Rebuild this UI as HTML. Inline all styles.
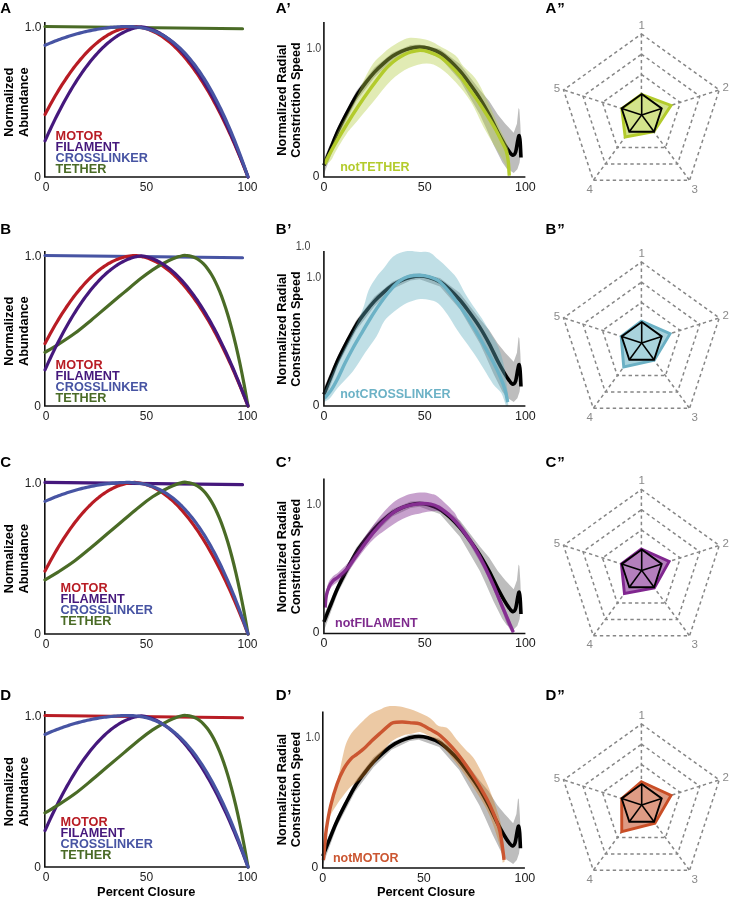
<!DOCTYPE html>
<html><head><meta charset="utf-8"><title>Figure</title>
<style>
html,body{margin:0;padding:0;background:#fff;}
body{width:729px;height:901px;overflow:hidden;}
svg{display:block;will-change:transform;}
text{font-family:"Liberation Sans", sans-serif;}
</style></head>
<body>
<svg width="729" height="901" viewBox="0 0 729 901" font-family='"Liberation Sans", sans-serif'>
<rect width="729" height="901" fill="#fff"/>
<text x="0.3" y="13.4" font-size="15" font-weight="bold">A</text>
<path d="M44.8,22 V177 H249" fill="none" stroke="#111" stroke-width="1.6"/>
<text x="41.5" y="30.8" font-size="12" text-anchor="end" fill="#222">1.0</text>
<text x="41" y="181.3" font-size="12" text-anchor="end" fill="#222">0</text>
<text x="46" y="190.5" font-size="12" text-anchor="middle" fill="#222">0</text>
<text x="146.5" y="190.5" font-size="12" text-anchor="middle" fill="#222">50</text>
<text x="247.5" y="190.5" font-size="12" text-anchor="middle" fill="#222">100</text>
<text transform="translate(13.3,102.25) rotate(-90)" font-size="12.8" font-weight="bold" text-anchor="middle">Normalized</text>
<text transform="translate(27.8,102.25) rotate(-90)" font-size="12.8" font-weight="bold" text-anchor="middle">Abundance</text>
<path d="M45,26.5 L242.52,28.76" fill="none" stroke="#4a6b26" stroke-width="3.2" stroke-linecap="round" stroke-linejoin="round"/>
<path d="M45,114.54 L46.69,111.31 L48.38,108.14 L50.08,105.03 L51.77,101.98 L53.46,98.99 L55.15,96.06 L56.84,93.2 L58.53,90.39 L60.23,87.64 L61.92,84.95 L63.61,82.33 L65.3,79.76 L66.99,77.25 L68.68,74.81 L70.38,72.42 L72.07,70.1 L73.76,67.83 L75.45,65.63 L77.14,63.49 L78.83,61.4 L80.53,59.38 L82.22,57.42 L83.91,55.52 L85.6,53.67 L87.29,51.89 L88.98,50.17 L90.68,48.51 L92.37,46.91 L94.06,45.37 L95.75,43.89 L97.44,42.47 L99.13,41.11 L100.83,39.82 L102.52,38.58 L104.21,37.4 L105.9,36.28 L107.59,35.23 L109.28,34.23 L110.98,33.29 L112.67,32.42 L114.36,31.6 L116.05,30.85 L117.74,30.15 L119.43,29.52 L121.12,28.95 L122.82,28.43 L124.51,27.98 L126.2,27.59 L127.89,27.25 L129.58,26.98 L131.27,26.77 L132.97,26.62 L134.66,26.56 L136.35,26.69 L138.04,26.87 L139.73,27.12 L141.43,27.44 L143.12,27.82 L144.81,28.26 L146.5,28.77 L148.19,29.34 L149.88,29.98 L151.57,30.68 L153.27,31.45 L154.96,32.28 L156.65,33.17 L158.34,34.13 L160.03,35.15 L161.72,36.24 L163.42,37.39 L165.11,38.61 L166.8,39.89 L168.49,41.23 L170.18,42.64 L171.88,44.11 L173.57,45.65 L175.26,47.25 L176.95,48.92 L178.64,50.65 L180.33,52.45 L182.03,54.3 L183.72,56.23 L185.41,58.22 L187.1,60.27 L188.79,62.39 L190.48,64.57 L192.17,66.81 L193.87,69.12 L195.56,71.5 L197.25,73.93 L198.94,76.44 L200.63,79 L202.33,81.63 L204.02,84.33 L205.71,87.09 L207.4,89.91 L209.09,92.8 L210.78,95.76 L212.47,98.77 L214.17,101.86 L215.86,105 L217.55,108.21 L219.24,111.49 L220.93,114.83 L222.62,118.23 L224.32,121.7 L226.01,125.23 L227.7,128.83 L229.39,132.49 L231.08,136.21 L232.78,140 L234.47,143.85 L236.16,147.77 L237.85,151.75 L239.54,155.8 L241.23,159.91 L242.92,164.09 L244.62,168.33 L246.31,172.63 L248,177" fill="none" stroke="#b81c24" stroke-width="3.2" stroke-linecap="round" stroke-linejoin="round"/>
<path d="M45,140.88 L46.69,137.1 L48.38,133.38 L50.08,129.73 L51.77,126.14 L53.46,122.61 L55.15,119.15 L56.84,115.75 L58.53,112.41 L60.23,109.14 L61.92,105.93 L63.61,102.79 L65.3,99.7 L66.99,96.68 L68.68,93.73 L70.38,90.84 L72.07,88.01 L73.76,85.25 L75.45,82.55 L77.14,79.91 L78.83,77.34 L80.53,74.83 L82.22,72.38 L83.91,70 L85.6,67.68 L87.29,65.42 L88.98,63.23 L90.68,61.1 L92.37,59.03 L94.06,57.03 L95.75,55.09 L97.44,53.22 L99.13,51.41 L100.83,49.66 L102.52,47.98 L104.21,46.36 L105.9,44.8 L107.59,43.31 L109.28,41.88 L110.98,40.51 L112.67,39.21 L114.36,37.97 L116.05,36.79 L117.74,35.68 L119.43,34.63 L121.12,33.65 L122.82,32.73 L124.51,31.87 L126.2,31.08 L127.89,30.34 L129.58,29.68 L131.27,29.07 L132.97,28.53 L134.66,28.06 L136.35,27.64 L138.04,27.29 L139.73,27.01 L141.43,26.81 L143.12,27.05 L144.81,27.36 L146.5,27.74 L148.19,28.19 L149.88,28.71 L151.57,29.3 L153.27,29.96 L154.96,30.68 L156.65,31.48 L158.34,32.34 L160.03,33.27 L161.72,34.27 L163.42,35.34 L165.11,36.48 L166.8,37.69 L168.49,38.97 L170.18,40.32 L171.88,41.74 L173.57,43.22 L175.26,44.78 L176.95,46.4 L178.64,48.09 L180.33,49.86 L182.03,51.69 L183.72,53.59 L185.41,55.56 L187.1,57.6 L188.79,59.7 L190.48,61.88 L192.17,64.12 L193.87,66.44 L195.56,68.82 L197.25,71.28 L198.94,73.8 L200.63,76.39 L202.33,79.05 L204.02,81.78 L205.71,84.58 L207.4,87.45 L209.09,90.38 L210.78,93.39 L212.47,96.46 L214.17,99.61 L215.86,102.82 L217.55,106.1 L219.24,109.45 L220.93,112.88 L222.62,116.36 L224.32,119.92 L226.01,123.55 L227.7,127.25 L229.39,131.01 L231.08,134.85 L232.78,138.75 L234.47,142.73 L236.16,146.77 L237.85,150.88 L239.54,155.06 L241.23,159.31 L242.92,163.63 L244.62,168.02 L246.31,172.47 L248,177" fill="none" stroke="#45187c" stroke-width="3.2" stroke-linecap="round" stroke-linejoin="round"/>
<path d="M45,45.31 L46.69,44.57 L48.38,43.85 L50.08,43.14 L51.77,42.44 L53.46,41.77 L55.15,41.1 L56.84,40.45 L58.53,39.81 L60.23,39.19 L61.92,38.59 L63.61,38 L65.3,37.42 L66.99,36.86 L68.68,36.31 L70.38,35.78 L72.07,35.26 L73.76,34.76 L75.45,34.27 L77.14,33.8 L78.83,33.34 L80.53,32.9 L82.22,32.47 L83.91,32.06 L85.6,31.66 L87.29,31.28 L88.98,30.91 L90.68,30.56 L92.37,30.22 L94.06,29.89 L95.75,29.58 L97.44,29.29 L99.13,29.01 L100.83,28.74 L102.52,28.49 L104.21,28.26 L105.9,28.04 L107.59,27.83 L109.28,27.64 L110.98,27.46 L112.67,27.3 L114.36,27.15 L116.05,27.02 L117.74,26.91 L119.43,26.8 L121.12,26.72 L122.82,26.64 L124.51,26.59 L126.2,26.54 L127.89,26.52 L129.58,26.55 L131.27,26.61 L132.97,26.7 L134.66,26.82 L136.35,26.98 L138.04,27.17 L139.73,27.4 L141.43,27.67 L143.12,27.99 L144.81,28.34 L146.5,28.75 L148.19,29.2 L149.88,29.7 L151.57,30.26 L153.27,30.86 L154.96,31.52 L156.65,32.23 L158.34,33 L160.03,33.82 L161.72,34.7 L163.42,35.64 L165.11,36.65 L166.8,37.71 L168.49,38.83 L170.18,40.02 L171.88,41.27 L173.57,42.59 L175.26,43.97 L176.95,45.42 L178.64,46.94 L180.33,48.53 L182.03,50.19 L183.72,51.91 L185.41,53.71 L187.1,55.58 L188.79,57.53 L190.48,59.54 L192.17,61.64 L193.87,63.8 L195.56,66.05 L197.25,68.37 L198.94,70.76 L200.63,73.24 L202.33,75.8 L204.02,78.43 L205.71,81.14 L207.4,83.94 L209.09,86.82 L210.78,89.78 L212.47,92.82 L214.17,95.95 L215.86,99.16 L217.55,102.45 L219.24,105.84 L220.93,109.3 L222.62,112.86 L224.32,116.5 L226.01,120.23 L227.7,124.05 L229.39,127.96 L231.08,131.95 L232.78,136.04 L234.47,140.22 L236.16,144.49 L237.85,148.86 L239.54,153.31 L241.23,157.86 L242.92,162.5 L244.62,167.24 L246.31,172.07 L248,177" fill="none" stroke="#4754a3" stroke-width="3.2" stroke-linecap="round" stroke-linejoin="round"/>
<text x="55.6" y="140.1" font-size="12.7" font-weight="bold" fill="#b81c24">MOTOR</text>
<text x="55.6" y="151" font-size="12.7" font-weight="bold" fill="#45187c">FILAMENT</text>
<text x="55.6" y="161.9" font-size="12.7" font-weight="bold" fill="#4754a3">CROSSLINKER</text>
<text x="55.6" y="172.8" font-size="12.7" font-weight="bold" fill="#4a6b26">TETHER</text>
<text x="275.8" y="13.4" font-size="15" font-weight="bold">A<tspan dx="0.6">’</tspan></text>
<path d="M323.9,158.8 L338,126.3 L356.14,91.2 L374.27,67.8 L392.41,52.85 L410.54,45.05 L419.61,44.4 L439.96,48.95 L459.91,63.9 L479.86,89.9 L489.13,100.95 L497.79,114.6 L505.25,123.7 L513.71,132.8 L516.94,123.7 L518.55,108.1 L519.36,109.4 L520.36,125 L521.17,144.5 L521.17,144.5 L520.36,156.2 L519.56,162.7 L517.34,169.2 L513.71,173.1 L506.66,168.42 L502.23,162.18 L493.36,144.5 L485.3,126.3 L479.86,114.6 L459.91,80.15 L439.96,57.4 L419.61,50.25 L410.54,51.55 L392.41,60 L374.27,77.55 L356.14,101.6 L338,136.05 L323.9,174.4 Z" fill="#bdbdbd" stroke="none"/>
<path d="M323.9,165.3 C325.08,162.38 328.6,153.49 330.95,147.75 C333.3,142.01 335.32,136.7 338,130.85 C340.69,125 344.05,118.44 347.07,112.65 C350.09,106.87 353.12,101.02 356.14,96.14 C359.16,91.27 362.19,87.37 365.21,83.4 C368.23,79.44 371.25,75.64 374.27,72.35 C377.3,69.06 380.32,66.31 383.34,63.64 C386.36,60.98 389.39,58.4 392.41,56.36 C395.43,54.32 398.45,52.76 401.48,51.42 C404.5,50.08 407.52,49.04 410.54,48.3 C413.57,47.56 416.59,47 419.61,47 C422.63,47 425.29,47.33 428.68,48.3 C432.07,49.28 436.44,50.79 439.96,52.85 C443.49,54.91 446.51,57.62 449.84,60.65 C453.16,63.68 456.72,67.37 459.91,71.05 C463.1,74.73 465.66,78.2 468.98,82.75 C472.3,87.3 476.5,93.04 479.86,98.35 C483.22,103.66 486.14,108.97 489.13,114.6 C492.12,120.23 495.28,127.28 497.79,132.15 C500.31,137.03 502.33,140.6 504.24,143.85 C506.16,147.1 507.84,149.77 509.28,151.65 C510.72,153.53 511.87,155.05 512.91,155.16 C513.95,155.27 514.72,154.73 515.53,152.3 C516.33,149.87 517.14,143.37 517.74,140.6 C518.35,137.83 518.75,135.44 519.15,135.66 C519.56,135.88 519.86,138.26 520.16,141.9 C520.46,145.54 520.83,154.9 520.97,157.5" fill="none" stroke="#000" stroke-width="3.6" stroke-linejoin="round" stroke-linecap="butt"/>
<path d="M323.9,160.1 C325.08,158.04 328.6,152.52 330.95,147.75 C333.3,142.98 335.39,136.92 338,131.5 C340.62,126.08 343.75,120.67 346.67,115.25 C349.59,109.83 352.61,104.96 355.54,99 C358.46,93.04 361.24,85.46 364.2,79.5 C367.16,73.54 370.25,67.47 373.27,63.25 C376.29,59.02 379.38,56.86 382.33,54.15 C385.29,51.44 387.98,49.17 391,47 C394.02,44.83 397.51,42.67 400.47,41.15 C403.43,39.63 405.47,38.33 408.73,37.9 C411.99,37.47 416.35,38.01 420.02,38.55 C423.68,39.09 427.37,39.87 430.69,41.15 C434.02,42.43 435.83,43.84 439.96,46.22 C444.09,48.6 451.58,52.09 455.48,55.45 C459.38,58.81 459.98,62.47 463.34,66.37 C466.7,70.27 471.77,73.41 475.63,78.85 C479.49,84.29 482.61,90.98 486.51,99 C490.41,107.02 495.38,118.67 499,126.95 C502.63,135.23 506.53,140.32 508.27,148.66 C510.02,157 509.28,172.28 509.48,177 L508.68,177 C508.1,174.88 507.63,169.48 505.25,164.26 C502.87,159.04 498,151.89 494.37,145.67 C490.74,139.45 487.38,134.21 483.49,126.95 C479.59,119.69 475.66,109.59 471,102.12 C466.33,94.65 460.65,87.78 455.48,82.1 C450.31,76.42 444.77,71.16 439.96,68.06 C435.16,64.96 431.87,63.51 426.66,63.51 C421.46,63.51 414.68,65.24 408.73,68.06 C402.79,70.88 396.91,74.8 391,80.41 C385.09,86.02 379.18,94.62 373.27,101.73 C367.36,108.84 359.97,117.72 355.54,123.05 C351.1,128.38 349.93,129.05 346.67,133.71 C343.41,138.37 338.61,146.56 335.99,151 C333.37,155.44 332.97,157.76 330.95,160.36 C328.94,162.96 325.08,165.56 323.9,166.6 Z" fill="#b4cd43" fill-opacity="0.4" stroke="none"/>
<path d="M324.71,164 C325.24,162.92 326.35,160.58 327.93,157.5 C329.51,154.42 331.09,151 334.18,145.54 C337.27,140.08 342.4,131.37 346.47,124.74 C350.53,118.11 354.39,112 358.56,105.76 C362.72,99.52 367.26,93.09 371.45,87.3 C375.65,81.52 380.59,74.89 383.75,71.05 C386.9,67.22 388.11,66.35 390.39,64.29 C392.68,62.23 395.1,60.33 397.45,58.7 C399.8,57.08 402.22,55.67 404.5,54.54 C406.78,53.41 408.56,52.66 411.15,51.94 C413.74,51.22 417.09,50.27 420.02,50.25 C422.94,50.23 425.36,50.71 428.68,51.81 C432,52.91 436.44,54.65 439.96,56.88 C443.49,59.11 446.51,62.04 449.84,65.2 C453.16,68.36 456.72,71.96 459.91,75.86 C463.1,79.76 465.66,83.92 468.98,88.6 C472.3,93.28 476.5,98.96 479.86,103.94 C483.22,108.92 486.48,114.19 489.13,118.5 C491.78,122.81 493.6,125.8 495.78,129.81 C497.96,133.82 500.48,139.02 502.23,142.55 C503.97,146.08 505.25,147.86 506.26,151 C507.26,154.14 507.77,157.28 508.27,161.4 C508.78,165.52 509.11,173.32 509.28,175.7" fill="none" stroke="#b3cb2c" stroke-width="3.4" stroke-linejoin="round"/>
<path d="M323.9,22 V177 H525.4" fill="none" stroke="#111" stroke-width="1.6"/>
<text transform="translate(321.3,51.6) scale(0.86,1)" font-size="12.4" text-anchor="end" fill="#444">1.0</text>
<text x="319.4" y="179.6" font-size="12" text-anchor="end" fill="#222">0</text>
<text x="323.9" y="190.5" font-size="12.5" text-anchor="middle" fill="#222">0</text>
<text x="424.65" y="190.5" font-size="12.5" text-anchor="middle" fill="#222">50</text>
<text x="525.4" y="190.5" font-size="12.5" text-anchor="middle" fill="#222">100</text>
<text transform="translate(285.5,100) rotate(-90)" font-size="12.85" font-weight="bold" text-anchor="middle">Normalized Radial</text>
<text transform="translate(300.3,100) rotate(-90)" font-size="12.6" font-weight="bold" text-anchor="middle">Constriction Speed</text>
<text x="340.2" y="170.6" font-size="12.5" font-weight="bold" fill="#b3cb2c">notTETHER</text>
<text x="545.6" y="13.4" font-size="15" font-weight="bold">A<tspan dx="0.8">”</tspan></text>
<path d="M641.4,94.68 L660.87,108.65 L653.43,131.26 L629.37,131.26 L621.93,108.65 Z" fill="none" stroke="#868686" stroke-width="1.5" stroke-dasharray="3.4 3.05"/>
<path d="M641.4,74.45 L680.33,102.4 L665.46,147.62 L617.34,147.62 L602.47,102.4 Z" fill="none" stroke="#868686" stroke-width="1.5" stroke-dasharray="3.4 3.05"/>
<path d="M641.4,54.23 L699.8,96.15 L677.49,163.99 L605.31,163.99 L583,96.15 Z" fill="none" stroke="#868686" stroke-width="1.5" stroke-dasharray="3.4 3.05"/>
<path d="M641.4,34 L719.26,89.9 L689.52,180.35 L593.28,180.35 L563.54,89.9 Z" fill="none" stroke="#868686" stroke-width="1.5" stroke-dasharray="3.4 3.05"/>
<path d="M641.4,114.9 L641.4,34" stroke="#868686" stroke-width="1.5" stroke-dasharray="3.4 3.05"/>
<path d="M641.4,114.9 L719.26,89.9" stroke="#868686" stroke-width="1.5" stroke-dasharray="3.4 3.05"/>
<path d="M641.4,114.9 L689.52,180.35" stroke="#868686" stroke-width="1.5" stroke-dasharray="3.4 3.05"/>
<path d="M641.4,114.9 L593.28,180.35" stroke="#868686" stroke-width="1.5" stroke-dasharray="3.4 3.05"/>
<path d="M641.4,114.9 L563.54,89.9" stroke="#868686" stroke-width="1.5" stroke-dasharray="3.4 3.05"/>
<text x="641.6" y="28.9" font-size="11.5" text-anchor="middle" fill="#8a8a8a">1</text>
<text x="725.6" y="91.2" font-size="11.5" text-anchor="middle" fill="#8a8a8a">2</text>
<text x="694.7" y="192.5" font-size="11.5" text-anchor="middle" fill="#8a8a8a">3</text>
<text x="589.7" y="192.5" font-size="11.5" text-anchor="middle" fill="#8a8a8a">4</text>
<text x="556.9" y="91.7" font-size="11.5" text-anchor="middle" fill="#8a8a8a">5</text>
<path d="M641.4,94.3 L671.04,105.38 L653.77,131.73 L625.16,136.99 L621.77,108.6 Z" fill="#d3e38b" stroke="#b3cb2c" stroke-width="2.9" stroke-linejoin="miter"/>
<path d="M641.7,114.9 L641.7,94.1" stroke="#000" stroke-width="1.6"/>
<path d="M641.7,114.9 L661.72,108.47" stroke="#000" stroke-width="1.6"/>
<path d="M641.7,114.9 L654.07,131.73" stroke="#000" stroke-width="1.6"/>
<path d="M641.7,114.9 L629.33,131.73" stroke="#000" stroke-width="1.6"/>
<path d="M641.7,114.9 L621.68,108.47" stroke="#000" stroke-width="1.6"/>
<path d="M641.7,94.1 L661.72,108.47 L654.07,131.73 L629.33,131.73 L621.68,108.47 Z" fill="none" stroke="#000" stroke-width="1.9" stroke-linejoin="miter"/>
<text x="0.3" y="233.7" font-size="15" font-weight="bold">B</text>
<path d="M44.8,251 V406 H249" fill="none" stroke="#111" stroke-width="1.6"/>
<text x="41.5" y="259.8" font-size="12" text-anchor="end" fill="#222">1.0</text>
<text x="41" y="410.3" font-size="12" text-anchor="end" fill="#222">0</text>
<text x="46" y="419.5" font-size="12" text-anchor="middle" fill="#222">0</text>
<text x="146.5" y="419.5" font-size="12" text-anchor="middle" fill="#222">50</text>
<text x="247.5" y="419.5" font-size="12" text-anchor="middle" fill="#222">100</text>
<text transform="translate(13.3,331.25) rotate(-90)" font-size="12.8" font-weight="bold" text-anchor="middle">Normalized</text>
<text transform="translate(27.8,331.25) rotate(-90)" font-size="12.8" font-weight="bold" text-anchor="middle">Abundance</text>
<path d="M45,255.5 L242.52,257.76" fill="none" stroke="#4754a3" stroke-width="3.2" stroke-linecap="round" stroke-linejoin="round"/>
<path d="M45,343.54 L46.69,340.31 L48.38,337.14 L50.08,334.03 L51.77,330.98 L53.46,327.99 L55.15,325.06 L56.84,322.2 L58.53,319.39 L60.23,316.64 L61.92,313.95 L63.61,311.33 L65.3,308.76 L66.99,306.25 L68.68,303.81 L70.38,301.42 L72.07,299.1 L73.76,296.83 L75.45,294.63 L77.14,292.49 L78.83,290.4 L80.53,288.38 L82.22,286.42 L83.91,284.52 L85.6,282.67 L87.29,280.89 L88.98,279.17 L90.68,277.51 L92.37,275.91 L94.06,274.37 L95.75,272.89 L97.44,271.47 L99.13,270.11 L100.83,268.82 L102.52,267.58 L104.21,266.4 L105.9,265.28 L107.59,264.23 L109.28,263.23 L110.98,262.29 L112.67,261.42 L114.36,260.6 L116.05,259.85 L117.74,259.15 L119.43,258.52 L121.12,257.95 L122.82,257.43 L124.51,256.98 L126.2,256.59 L127.89,256.25 L129.58,255.98 L131.27,255.77 L132.97,255.62 L134.66,255.56 L136.35,255.69 L138.04,255.87 L139.73,256.12 L141.43,256.44 L143.12,256.82 L144.81,257.26 L146.5,257.77 L148.19,258.34 L149.88,258.98 L151.57,259.68 L153.27,260.45 L154.96,261.28 L156.65,262.17 L158.34,263.13 L160.03,264.15 L161.72,265.24 L163.42,266.39 L165.11,267.61 L166.8,268.89 L168.49,270.23 L170.18,271.64 L171.88,273.11 L173.57,274.65 L175.26,276.25 L176.95,277.92 L178.64,279.65 L180.33,281.45 L182.03,283.3 L183.72,285.23 L185.41,287.22 L187.1,289.27 L188.79,291.39 L190.48,293.57 L192.17,295.81 L193.87,298.12 L195.56,300.5 L197.25,302.93 L198.94,305.44 L200.63,308 L202.33,310.63 L204.02,313.33 L205.71,316.09 L207.4,318.91 L209.09,321.8 L210.78,324.76 L212.47,327.77 L214.17,330.86 L215.86,334 L217.55,337.21 L219.24,340.49 L220.93,343.83 L222.62,347.23 L224.32,350.7 L226.01,354.23 L227.7,357.83 L229.39,361.49 L231.08,365.21 L232.78,369 L234.47,372.85 L236.16,376.77 L237.85,380.75 L239.54,384.8 L241.23,388.91 L242.92,393.09 L244.62,397.33 L246.31,401.63 L248,406" fill="none" stroke="#b81c24" stroke-width="3.2" stroke-linecap="round" stroke-linejoin="round"/>
<path d="M45,352.27 C47.23,350.94 53.42,347.46 58.4,344.3 C63.37,341.13 69.33,337.37 74.84,333.31 C80.36,329.25 85.97,324.48 91.49,319.91 C97,315.35 102.48,310.51 107.93,305.92 C113.38,301.33 118.76,296.89 124.17,292.37 C129.58,287.86 135.67,282.59 140.41,278.83 C145.15,275.06 148.87,272.31 152.59,269.8 C156.31,267.29 159.36,265.61 162.74,263.78 C166.12,261.95 169.51,260.19 172.89,258.81 C176.27,257.43 180.67,256.03 183.04,255.5 C185.41,254.97 185.75,255.51 187.1,255.65 C188.45,255.79 189.81,255.97 191.16,256.33 C192.51,256.69 193.87,257.15 195.22,257.79 C196.57,258.44 197.93,259.22 199.28,260.2 C200.63,261.19 201.99,262.34 203.34,263.72 C204.69,265.09 206.05,266.65 207.4,268.46 C208.75,270.27 210.11,272.28 211.46,274.55 C212.81,276.83 214.17,279.33 215.52,282.1 C216.87,284.88 218.23,287.9 219.58,291.21 C220.93,294.53 222.29,298.1 223.64,301.98 C224.99,305.85 226.35,310.01 227.7,314.48 C229.05,318.95 230.41,323.72 231.76,328.81 C233.11,333.91 234.47,339.31 235.82,345.06 C237.17,350.8 238.53,356.86 239.88,363.28 C241.23,369.7 242.59,376.46 243.94,383.58 C245.29,390.69 247.32,402.26 248,406" fill="none" stroke="#4a6b26" stroke-width="3.2" stroke-linecap="round" stroke-linejoin="round"/>
<path d="M45,369.88 L46.69,366.1 L48.38,362.38 L50.08,358.73 L51.77,355.14 L53.46,351.61 L55.15,348.15 L56.84,344.75 L58.53,341.41 L60.23,338.14 L61.92,334.93 L63.61,331.79 L65.3,328.7 L66.99,325.68 L68.68,322.73 L70.38,319.84 L72.07,317.01 L73.76,314.25 L75.45,311.55 L77.14,308.91 L78.83,306.34 L80.53,303.83 L82.22,301.38 L83.91,299 L85.6,296.68 L87.29,294.42 L88.98,292.23 L90.68,290.1 L92.37,288.03 L94.06,286.03 L95.75,284.1 L97.44,282.22 L99.13,280.41 L100.83,278.66 L102.52,276.98 L104.21,275.36 L105.9,273.8 L107.59,272.31 L109.28,270.88 L110.98,269.51 L112.67,268.21 L114.36,266.97 L116.05,265.79 L117.74,264.68 L119.43,263.63 L121.12,262.65 L122.82,261.73 L124.51,260.87 L126.2,260.08 L127.89,259.34 L129.58,258.68 L131.27,258.07 L132.97,257.53 L134.66,257.06 L136.35,256.64 L138.04,256.29 L139.73,256.01 L141.43,255.81 L143.12,256.05 L144.81,256.36 L146.5,256.74 L148.19,257.19 L149.88,257.71 L151.57,258.3 L153.27,258.96 L154.96,259.68 L156.65,260.48 L158.34,261.34 L160.03,262.27 L161.72,263.27 L163.42,264.34 L165.11,265.48 L166.8,266.69 L168.49,267.97 L170.18,269.32 L171.88,270.74 L173.57,272.22 L175.26,273.78 L176.95,275.4 L178.64,277.09 L180.33,278.86 L182.03,280.69 L183.72,282.59 L185.41,284.56 L187.1,286.6 L188.79,288.7 L190.48,290.88 L192.17,293.12 L193.87,295.44 L195.56,297.82 L197.25,300.28 L198.94,302.8 L200.63,305.39 L202.33,308.05 L204.02,310.78 L205.71,313.58 L207.4,316.45 L209.09,319.38 L210.78,322.39 L212.47,325.46 L214.17,328.61 L215.86,331.82 L217.55,335.1 L219.24,338.45 L220.93,341.88 L222.62,345.36 L224.32,348.92 L226.01,352.55 L227.7,356.25 L229.39,360.01 L231.08,363.85 L232.78,367.75 L234.47,371.73 L236.16,375.77 L237.85,379.88 L239.54,384.06 L241.23,388.31 L242.92,392.63 L244.62,397.02 L246.31,401.47 L248,406" fill="none" stroke="#45187c" stroke-width="3.2" stroke-linecap="round" stroke-linejoin="round"/>
<text x="55.6" y="369.1" font-size="12.7" font-weight="bold" fill="#b81c24">MOTOR</text>
<text x="55.6" y="380" font-size="12.7" font-weight="bold" fill="#45187c">FILAMENT</text>
<text x="55.6" y="390.9" font-size="12.7" font-weight="bold" fill="#4754a3">CROSSLINKER</text>
<text x="55.6" y="401.8" font-size="12.7" font-weight="bold" fill="#4a6b26">TETHER</text>
<text x="275.8" y="233.7" font-size="15" font-weight="bold">B<tspan dx="0.6">’</tspan></text>
<path d="M323.9,387.8 L338,355.3 L356.14,320.2 L374.27,296.8 L392.41,281.85 L410.54,274.05 L419.61,273.4 L439.96,277.95 L459.91,292.9 L479.86,318.9 L489.13,329.95 L497.79,343.6 L505.25,352.7 L513.71,361.8 L516.94,352.7 L518.55,337.1 L519.36,338.4 L520.36,354 L521.17,373.5 L521.17,373.5 L520.36,385.2 L519.56,391.7 L517.34,398.2 L513.71,402.1 L506.66,397.42 L502.23,391.18 L493.36,373.5 L485.3,355.3 L479.86,343.6 L459.91,309.15 L439.96,286.4 L419.61,279.25 L410.54,280.55 L392.41,289 L374.27,306.55 L356.14,330.6 L338,365.05 L323.9,403.4 Z" fill="#bdbdbd" stroke="none"/>
<path d="M323.9,394.3 C325.08,391.38 328.6,382.49 330.95,376.75 C333.3,371.01 335.32,365.7 338,359.85 C340.69,354 344.05,347.44 347.07,341.65 C350.09,335.86 353.12,330.01 356.14,325.14 C359.16,320.26 362.19,316.36 365.21,312.4 C368.23,308.44 371.25,304.64 374.27,301.35 C377.3,298.06 380.32,295.31 383.34,292.64 C386.36,289.97 389.39,287.4 392.41,285.36 C395.43,283.32 398.45,281.76 401.48,280.42 C404.5,279.08 407.52,278.04 410.54,277.3 C413.57,276.56 416.59,276 419.61,276 C422.63,276 425.29,276.32 428.68,277.3 C432.07,278.28 436.44,279.79 439.96,281.85 C443.49,283.91 446.51,286.62 449.84,289.65 C453.16,292.68 456.72,296.37 459.91,300.05 C463.1,303.73 465.66,307.2 468.98,311.75 C472.3,316.3 476.5,322.04 479.86,327.35 C483.22,332.66 486.14,337.97 489.13,343.6 C492.12,349.23 495.28,356.27 497.79,361.15 C500.31,366.02 502.33,369.6 504.24,372.85 C506.16,376.1 507.84,378.76 509.28,380.65 C510.72,382.53 511.87,384.05 512.91,384.16 C513.95,384.27 514.72,383.73 515.53,381.3 C516.33,378.87 517.14,372.37 517.74,369.6 C518.35,366.83 518.75,364.44 519.15,364.66 C519.56,364.88 519.86,367.26 520.16,370.9 C520.46,374.54 520.83,383.9 520.97,386.5" fill="none" stroke="#000" stroke-width="3.6" stroke-linejoin="round" stroke-linecap="butt"/>
<path d="M323.9,393 C325.08,390.29 328.6,382.06 330.95,376.75 C333.3,371.44 335.59,366.24 338,361.15 C340.42,356.06 342.94,351.18 345.46,346.2 C347.98,341.22 351.07,335.41 353.12,331.25 C355.17,327.09 355.94,325.51 357.75,321.24 C359.57,316.97 362.18,310.82 364,305.64 C365.81,300.46 366.58,294.89 368.63,290.17 C370.68,285.45 373.67,281.07 376.29,277.3 C378.91,273.53 381.53,271.02 384.35,267.55 C387.17,264.08 389.62,259.21 393.22,256.5 C396.81,253.79 401.44,252.06 405.91,251.3 C410.38,250.54 416.05,251.73 420.02,251.95 C423.98,252.17 426.63,251.32 429.69,252.6 C432.74,253.88 435.33,257.02 438.35,259.62 C441.37,262.22 444.77,265.14 447.82,268.2 C450.88,271.25 453.7,273.57 456.69,277.95 C459.68,282.33 462.7,289.37 465.76,294.46 C468.81,299.55 471.97,303.93 475.02,308.5 C478.08,313.07 481.41,317.56 484.09,321.89 C486.78,326.22 488.73,330.23 491.14,334.5 C493.56,338.77 496.42,342.08 498.6,347.5 C500.78,352.92 502.73,359.42 504.24,367 C505.75,374.58 507,386.5 507.67,393 C508.34,399.5 508.17,403.83 508.27,406 L506.06,406 C505.25,403.83 503.37,396.64 501.22,393 C499.07,389.36 496.01,388.06 493.16,384.16 C490.31,380.26 487.15,374.5 484.09,369.6 C481.04,364.7 477.85,359.33 474.82,354.78 C471.8,350.23 468.98,346.57 465.96,342.3 C462.94,338.03 459.71,333.72 456.69,329.17 C453.67,324.62 450.88,319.27 447.82,315 C444.77,310.73 441.37,306.05 438.35,303.56 C435.33,301.07 432.64,300.81 429.69,300.05 C426.73,299.29 423.64,298.79 420.62,299.01 C417.6,299.23 414.64,300.25 411.55,301.35 C408.46,302.46 405.37,303.62 402.08,305.64 C398.79,307.65 394.79,310.84 391.81,313.44 C388.82,316.04 386.73,317.34 384.15,321.24 C381.56,325.14 379.41,331.66 376.29,336.84 C373.17,342.02 369.27,346.61 365.41,352.31 C361.55,358.01 357.75,365.07 353.12,371.03 C348.48,376.99 341.46,383.53 337.6,388.06 C333.74,392.59 332.23,395.86 329.94,398.2 C327.66,400.54 324.91,401.45 323.9,402.1 Z" fill="#61afc0" fill-opacity="0.4" stroke="none"/>
<path d="M324.5,398.2 C325.58,396.9 328.77,393.65 330.95,390.4 C333.14,387.15 335.25,383.25 337.6,378.7 C339.95,374.15 342.47,368.26 345.06,363.1 C347.64,357.94 350.43,352.63 353.12,347.76 C355.8,342.88 358.59,338.27 361.18,333.85 C363.76,329.43 366.11,325.36 368.63,321.24 C371.15,317.12 373.7,313.03 376.29,309.15 C378.88,305.27 381.53,301.44 384.15,297.97 C386.77,294.5 389.42,291.19 392.01,288.35 C394.59,285.51 397.01,282.89 399.66,280.94 C402.32,278.99 404.53,277.6 407.93,276.65 C411.32,275.7 416.56,275.22 420.02,275.22 C423.47,275.22 425.62,275.74 428.68,276.65 C431.74,277.56 435.16,278.4 438.35,280.68 C441.54,282.96 444.77,286.79 447.82,290.3 C450.88,293.81 453.67,297.62 456.69,301.74 C459.71,305.86 462.94,310.43 465.96,315 C468.98,319.57 471.8,324.08 474.82,329.17 C477.85,334.26 481.04,340.07 484.09,345.55 C487.15,351.03 490.47,356.86 493.16,362.06 C495.85,367.26 498.2,372.03 500.21,376.75 C502.23,381.47 504.01,386.17 505.25,390.4 C506.49,394.62 507.26,400.15 507.67,402.1" fill="none" stroke="#6cb2c6" stroke-width="3.4" stroke-linejoin="round"/>
<path d="M323.9,251 V406 H525.4" fill="none" stroke="#111" stroke-width="1.6"/>
<text transform="translate(321.3,280.6) scale(0.86,1)" font-size="12.4" text-anchor="end" fill="#444">1.0</text>
<text transform="translate(310.5,249.6) scale(0.86,1)" font-size="12.4" text-anchor="end" fill="#444">1.0</text>
<text x="319.4" y="408.6" font-size="12" text-anchor="end" fill="#222">0</text>
<text x="323.9" y="419.5" font-size="12.5" text-anchor="middle" fill="#222">0</text>
<text x="424.65" y="419.5" font-size="12.5" text-anchor="middle" fill="#222">50</text>
<text x="525.4" y="419.5" font-size="12.5" text-anchor="middle" fill="#222">100</text>
<text transform="translate(285.5,329) rotate(-90)" font-size="12.85" font-weight="bold" text-anchor="middle">Normalized Radial</text>
<text transform="translate(300.3,329) rotate(-90)" font-size="12.6" font-weight="bold" text-anchor="middle">Constriction Speed</text>
<text x="340.2" y="397.8" font-size="12.5" font-weight="bold" fill="#6cb2c6">notCROSSLINKER</text>
<text x="545.6" y="233.7" font-size="15" font-weight="bold">B<tspan dx="0.8">”</tspan></text>
<path d="M641.4,322.67 L660.87,336.65 L653.43,359.26 L629.37,359.26 L621.93,336.65 Z" fill="none" stroke="#868686" stroke-width="1.5" stroke-dasharray="3.4 3.05"/>
<path d="M641.4,302.45 L680.33,330.4 L665.46,375.62 L617.34,375.62 L602.47,330.4 Z" fill="none" stroke="#868686" stroke-width="1.5" stroke-dasharray="3.4 3.05"/>
<path d="M641.4,282.22 L699.8,324.15 L677.49,391.99 L605.31,391.99 L583,324.15 Z" fill="none" stroke="#868686" stroke-width="1.5" stroke-dasharray="3.4 3.05"/>
<path d="M641.4,262 L719.26,317.9 L689.52,408.35 L593.28,408.35 L563.54,317.9 Z" fill="none" stroke="#868686" stroke-width="1.5" stroke-dasharray="3.4 3.05"/>
<path d="M641.4,342.9 L641.4,262" stroke="#868686" stroke-width="1.5" stroke-dasharray="3.4 3.05"/>
<path d="M641.4,342.9 L719.26,317.9" stroke="#868686" stroke-width="1.5" stroke-dasharray="3.4 3.05"/>
<path d="M641.4,342.9 L689.52,408.35" stroke="#868686" stroke-width="1.5" stroke-dasharray="3.4 3.05"/>
<path d="M641.4,342.9 L593.28,408.35" stroke="#868686" stroke-width="1.5" stroke-dasharray="3.4 3.05"/>
<path d="M641.4,342.9 L563.54,317.9" stroke="#868686" stroke-width="1.5" stroke-dasharray="3.4 3.05"/>
<text x="641.6" y="256.9" font-size="11.5" text-anchor="middle" fill="#8a8a8a">1</text>
<text x="725.6" y="319.2" font-size="11.5" text-anchor="middle" fill="#8a8a8a">2</text>
<text x="694.7" y="420.5" font-size="11.5" text-anchor="middle" fill="#8a8a8a">3</text>
<text x="589.7" y="420.5" font-size="11.5" text-anchor="middle" fill="#8a8a8a">4</text>
<text x="556.9" y="319.7" font-size="11.5" text-anchor="middle" fill="#8a8a8a">5</text>
<path d="M641.4,321.1 L670.08,333.69 L654.19,360.29 L623.73,366.93 L621.19,336.41 Z" fill="#a9d3dd" stroke="#6bb0c4" stroke-width="2.9" stroke-linejoin="miter"/>
<path d="M641.7,342.9 L641.7,322.1" stroke="#000" stroke-width="1.6"/>
<path d="M641.7,342.9 L661.72,336.47" stroke="#000" stroke-width="1.6"/>
<path d="M641.7,342.9 L654.07,359.73" stroke="#000" stroke-width="1.6"/>
<path d="M641.7,342.9 L629.33,359.73" stroke="#000" stroke-width="1.6"/>
<path d="M641.7,342.9 L621.68,336.47" stroke="#000" stroke-width="1.6"/>
<path d="M641.7,322.1 L661.72,336.47 L654.07,359.73 L629.33,359.73 L621.68,336.47 Z" fill="none" stroke="#000" stroke-width="1.9" stroke-linejoin="miter"/>
<text x="0.3" y="467.3" font-size="15" font-weight="bold">C</text>
<path d="M44.8,477.9 V634 H249" fill="none" stroke="#111" stroke-width="1.6"/>
<text x="41.5" y="486.7" font-size="12" text-anchor="end" fill="#222">1.0</text>
<text x="41" y="638.3" font-size="12" text-anchor="end" fill="#222">0</text>
<text x="46" y="647.5" font-size="12" text-anchor="middle" fill="#222">0</text>
<text x="146.5" y="647.5" font-size="12" text-anchor="middle" fill="#222">50</text>
<text x="247.5" y="647.5" font-size="12" text-anchor="middle" fill="#222">100</text>
<text transform="translate(13.3,558.7) rotate(-90)" font-size="12.8" font-weight="bold" text-anchor="middle">Normalized</text>
<text transform="translate(27.8,558.7) rotate(-90)" font-size="12.8" font-weight="bold" text-anchor="middle">Abundance</text>
<path d="M45,482.4 L242.52,484.67" fill="none" stroke="#45187c" stroke-width="3.2" stroke-linecap="round" stroke-linejoin="round"/>
<path d="M45,571.09 L46.69,567.83 L48.38,564.64 L50.08,561.51 L51.77,558.43 L53.46,555.42 L55.15,552.47 L56.84,549.58 L58.53,546.76 L60.23,543.99 L61.92,541.28 L63.61,538.63 L65.3,536.05 L66.99,533.53 L68.68,531.06 L70.38,528.66 L72.07,526.32 L73.76,524.04 L75.45,521.82 L77.14,519.66 L78.83,517.56 L80.53,515.52 L82.22,513.54 L83.91,511.63 L85.6,509.77 L87.29,507.98 L88.98,506.24 L90.68,504.57 L92.37,502.96 L94.06,501.41 L95.75,499.92 L97.44,498.49 L99.13,497.12 L100.83,495.81 L102.52,494.57 L104.21,493.38 L105.9,492.25 L107.59,491.19 L109.28,490.19 L110.98,489.24 L112.67,488.36 L114.36,487.54 L116.05,486.78 L117.74,486.08 L119.43,485.44 L121.12,484.86 L122.82,484.35 L124.51,483.89 L126.2,483.49 L127.89,483.16 L129.58,482.89 L131.27,482.67 L132.97,482.52 L134.66,482.46 L136.35,482.59 L138.04,482.77 L139.73,483.03 L141.43,483.34 L143.12,483.73 L144.81,484.17 L146.5,484.69 L148.19,485.26 L149.88,485.9 L151.57,486.61 L153.27,487.38 L154.96,488.22 L156.65,489.12 L158.34,490.08 L160.03,491.12 L161.72,492.21 L163.42,493.37 L165.11,494.6 L166.8,495.88 L168.49,497.24 L170.18,498.66 L171.88,500.14 L173.57,501.69 L175.26,503.31 L176.95,504.98 L178.64,506.73 L180.33,508.54 L182.03,510.41 L183.72,512.35 L185.41,514.35 L187.1,516.42 L188.79,518.55 L190.48,520.74 L192.17,523.01 L193.87,525.33 L195.56,527.72 L197.25,530.18 L198.94,532.7 L200.63,535.29 L202.33,537.94 L204.02,540.65 L205.71,543.43 L207.4,546.28 L209.09,549.19 L210.78,552.16 L212.47,555.2 L214.17,558.31 L215.86,561.48 L217.55,564.71 L219.24,568.01 L220.93,571.37 L222.62,574.8 L224.32,578.29 L226.01,581.85 L227.7,585.47 L229.39,589.16 L231.08,592.91 L232.78,596.73 L234.47,600.61 L236.16,604.56 L237.85,608.57 L239.54,612.65 L241.23,616.79 L242.92,620.99 L244.62,625.26 L246.31,629.6 L248,634" fill="none" stroke="#b81c24" stroke-width="3.2" stroke-linecap="round" stroke-linejoin="round"/>
<path d="M45,579.88 C47.23,578.54 53.42,575.03 58.4,571.84 C63.37,568.66 69.33,564.87 74.84,560.78 C80.36,556.68 85.97,551.88 91.49,547.28 C97,542.69 102.48,537.81 107.93,533.19 C113.38,528.56 118.76,524.09 124.17,519.54 C129.58,514.99 135.67,509.69 140.41,505.9 C145.15,502.11 148.87,499.33 152.59,496.8 C156.31,494.28 159.36,492.58 162.74,490.74 C166.12,488.89 169.51,487.12 172.89,485.74 C176.27,484.35 180.67,482.93 183.04,482.4 C185.41,481.87 185.75,482.41 187.1,482.55 C188.45,482.69 189.81,482.88 191.16,483.24 C192.51,483.6 193.87,484.06 195.22,484.71 C196.57,485.36 197.93,486.14 199.28,487.14 C200.63,488.13 201.99,489.29 203.34,490.68 C204.69,492.06 206.05,493.64 207.4,495.46 C208.75,497.27 210.11,499.3 211.46,501.59 C212.81,503.88 214.17,506.4 215.52,509.2 C216.87,512 218.23,515.04 219.58,518.38 C220.93,521.71 222.29,525.31 223.64,529.22 C224.99,533.12 226.35,537.31 227.7,541.81 C229.05,546.32 230.41,551.12 231.76,556.25 C233.11,561.38 234.47,566.82 235.82,572.61 C237.17,578.4 238.53,584.51 239.88,590.97 C241.23,597.44 242.59,604.24 243.94,611.41 C245.29,618.58 247.32,630.24 248,634" fill="none" stroke="#4a6b26" stroke-width="3.2" stroke-linecap="round" stroke-linejoin="round"/>
<path d="M45,501.35 L46.69,500.61 L48.38,499.88 L50.08,499.16 L51.77,498.46 L53.46,497.78 L55.15,497.11 L56.84,496.45 L58.53,495.81 L60.23,495.19 L61.92,494.58 L63.61,493.98 L65.3,493.4 L66.99,492.83 L68.68,492.28 L70.38,491.75 L72.07,491.23 L73.76,490.72 L75.45,490.23 L77.14,489.76 L78.83,489.29 L80.53,488.85 L82.22,488.42 L83.91,488 L85.6,487.6 L87.29,487.21 L88.98,486.84 L90.68,486.48 L92.37,486.14 L94.06,485.82 L95.75,485.5 L97.44,485.21 L99.13,484.93 L100.83,484.66 L102.52,484.41 L104.21,484.17 L105.9,483.95 L107.59,483.74 L109.28,483.55 L110.98,483.37 L112.67,483.21 L114.36,483.06 L116.05,482.93 L117.74,482.81 L119.43,482.71 L121.12,482.62 L122.82,482.54 L124.51,482.49 L126.2,482.44 L127.89,482.42 L129.58,482.45 L131.27,482.51 L132.97,482.6 L134.66,482.72 L136.35,482.88 L138.04,483.07 L139.73,483.31 L141.43,483.58 L143.12,483.9 L144.81,484.26 L146.5,484.67 L148.19,485.12 L149.88,485.63 L151.57,486.18 L153.27,486.79 L154.96,487.45 L156.65,488.17 L158.34,488.94 L160.03,489.77 L161.72,490.66 L163.42,491.61 L165.11,492.62 L166.8,493.69 L168.49,494.82 L170.18,496.02 L171.88,497.28 L173.57,498.61 L175.26,500 L176.95,501.46 L178.64,502.99 L180.33,504.59 L182.03,506.26 L183.72,508 L185.41,509.81 L187.1,511.7 L188.79,513.65 L190.48,515.69 L192.17,517.79 L193.87,519.98 L195.56,522.24 L197.25,524.57 L198.94,526.99 L200.63,529.48 L202.33,532.06 L204.02,534.71 L205.71,537.44 L207.4,540.26 L209.09,543.16 L210.78,546.14 L212.47,549.21 L214.17,552.35 L215.86,555.59 L217.55,558.91 L219.24,562.32 L220.93,565.81 L222.62,569.39 L224.32,573.06 L226.01,576.82 L227.7,580.66 L229.39,584.6 L231.08,588.63 L232.78,592.74 L234.47,596.95 L236.16,601.26 L237.85,605.65 L239.54,610.14 L241.23,614.72 L242.92,619.4 L244.62,624.17 L246.31,629.04 L248,634" fill="none" stroke="#4754a3" stroke-width="3.2" stroke-linecap="round" stroke-linejoin="round"/>
<text x="60.6" y="592" font-size="12.7" font-weight="bold" fill="#b81c24">MOTOR</text>
<text x="60.6" y="602.9" font-size="12.7" font-weight="bold" fill="#45187c">FILAMENT</text>
<text x="60.6" y="613.8" font-size="12.7" font-weight="bold" fill="#4754a3">CROSSLINKER</text>
<text x="60.6" y="624.7" font-size="12.7" font-weight="bold" fill="#4a6b26">TETHER</text>
<text x="275.8" y="467.3" font-size="15" font-weight="bold">C<tspan dx="0.6">’</tspan></text>
<path d="M323.9,615.3 L338,582.8 L356.14,547.7 L374.27,524.3 L392.41,509.35 L410.54,501.55 L419.61,500.9 L439.96,505.45 L459.91,520.4 L479.86,546.4 L489.13,557.45 L497.79,571.1 L505.25,580.2 L513.71,589.3 L516.94,580.2 L518.55,564.6 L519.36,565.9 L520.36,581.5 L521.17,601 L521.17,601 L520.36,612.7 L519.56,619.2 L517.34,625.7 L513.71,629.6 L506.66,624.92 L502.23,618.68 L493.36,601 L485.3,582.8 L479.86,571.1 L459.91,536.65 L439.96,513.9 L419.61,506.75 L410.54,508.05 L392.41,516.5 L374.27,534.05 L356.14,558.1 L338,592.55 L323.9,630.9 Z" fill="#bdbdbd" stroke="none"/>
<path d="M323.9,621.8 C325.08,618.88 328.6,609.99 330.95,604.25 C333.3,598.51 335.32,593.2 338,587.35 C340.69,581.5 344.05,574.93 347.07,569.15 C350.09,563.37 353.12,557.51 356.14,552.64 C359.16,547.76 362.19,543.87 365.21,539.9 C368.23,535.93 371.25,532.14 374.27,528.85 C377.3,525.56 380.32,522.8 383.34,520.14 C386.36,517.48 389.39,514.9 392.41,512.86 C395.43,510.82 398.45,509.26 401.48,507.92 C404.5,506.58 407.52,505.54 410.54,504.8 C413.57,504.06 416.59,503.5 419.61,503.5 C422.63,503.5 425.29,503.82 428.68,504.8 C432.07,505.78 436.44,507.29 439.96,509.35 C443.49,511.41 446.51,514.12 449.84,517.15 C453.16,520.18 456.72,523.87 459.91,527.55 C463.1,531.23 465.66,534.7 468.98,539.25 C472.3,543.8 476.5,549.54 479.86,554.85 C483.22,560.16 486.14,565.47 489.13,571.1 C492.12,576.73 495.28,583.77 497.79,588.65 C500.31,593.52 502.33,597.1 504.24,600.35 C506.16,603.6 507.84,606.26 509.28,608.15 C510.72,610.03 511.87,611.55 512.91,611.66 C513.95,611.77 514.72,611.23 515.53,608.8 C516.33,606.37 517.14,599.87 517.74,597.1 C518.35,594.33 518.75,591.94 519.15,592.16 C519.56,592.38 519.86,594.76 520.16,598.4 C520.46,602.04 520.83,611.4 520.97,614" fill="none" stroke="#000" stroke-width="3.6" stroke-linejoin="round" stroke-linecap="butt"/>
<path d="M323.9,603.6 C324.57,600.35 326.42,588.65 327.93,584.1 C329.44,579.55 331.25,578.25 332.97,576.3 C334.68,574.35 335.79,574.57 338.21,572.4 C340.62,570.23 344.42,566.98 347.48,563.3 C350.53,559.62 353.49,554.94 356.54,550.3 C359.6,545.66 362.76,540.03 365.81,535.48 C368.87,530.93 371.82,526.99 374.88,523 C377.94,519.01 381.09,514.98 384.15,511.56 C387.2,508.14 390.16,504.89 393.22,502.46 C396.27,500.03 399.43,498.45 402.49,497 C405.54,495.55 408.23,494.51 411.55,493.75 C414.88,492.99 419.24,492.45 422.43,492.45 C425.62,492.45 428.04,492.99 430.69,493.75 C433.35,494.51 434.56,494.03 438.35,497 C442.15,499.97 450.04,507.66 453.46,511.56 C456.89,515.46 456.82,517.19 458.9,520.4 C460.99,523.61 463.3,526.9 465.96,530.8 C468.61,534.7 471.8,538.82 474.82,543.8 C477.85,548.78 481.04,554.63 484.09,560.7 C487.15,566.77 490.1,573.27 493.16,580.2 C496.22,587.13 499.91,596.23 502.43,602.3 C504.95,608.37 506.29,611.4 508.27,616.6 C510.25,621.8 513.31,630.68 514.32,633.5 L512.3,633.5 C511.46,631.98 508.91,628.08 507.26,624.4 C505.62,620.72 504.78,617.25 502.43,611.4 C500.08,605.55 496.22,596.23 493.16,589.3 C490.1,582.37 487.15,575.87 484.09,569.8 C481.04,563.73 477.85,558.1 474.82,552.9 C471.8,547.7 468.98,543.04 465.96,538.6 C462.94,534.16 459.71,529.93 456.69,526.25 C453.67,522.57 450.88,518.99 447.82,516.5 C444.77,514.01 441.37,512.12 438.35,511.3 C435.33,510.48 432.74,511.21 429.69,511.56 C426.63,511.91 423.04,512.75 420.02,513.38 C416.99,514.01 414.47,514.38 411.55,515.33 C408.63,516.28 405.54,517.58 402.49,519.1 C399.43,520.62 396.24,522.48 393.22,524.43 C390.19,526.38 387.41,528.55 384.35,530.8 C381.29,533.05 377.97,535.13 374.88,537.95 C371.79,540.77 368.87,544.02 365.81,547.7 C362.76,551.38 359.6,555.93 356.54,560.05 C353.49,564.17 350.53,568.82 347.48,572.4 C344.42,575.98 340.62,579.33 338.21,581.5 C335.79,583.67 334.48,583.88 332.97,585.4 C331.46,586.92 330.25,588 329.14,590.6 C328.03,593.2 327.19,597.53 326.32,601 C325.44,604.47 324.3,609.67 323.9,611.4 Z" fill="#7a2089" fill-opacity="0.42" stroke="none"/>
<path d="M325.11,607.5 C325.31,605.55 325.65,599.27 326.32,595.8 C326.99,592.33 328.03,589.19 329.14,586.7 C330.25,584.21 331.46,582.48 332.97,580.85 C334.48,579.23 335.79,579.05 338.21,576.95 C340.62,574.85 344.42,571.82 347.48,568.24 C350.53,564.66 353.49,559.79 356.54,555.5 C359.6,551.21 362.76,546.62 365.81,542.5 C368.87,538.38 371.79,534.48 374.88,530.8 C377.97,527.12 381.29,523.43 384.35,520.4 C387.41,517.37 390.19,514.77 393.22,512.6 C396.24,510.43 399.43,508.7 402.49,507.4 C405.54,506.1 408.23,505.45 411.55,504.8 C414.88,504.15 419.24,503.61 422.43,503.5 C425.62,503.39 428.04,503.56 430.69,504.15 C433.35,504.73 435.5,505.38 438.35,507.01 C441.21,508.63 444.77,511.3 447.82,513.9 C450.88,516.5 453.67,519.14 456.69,522.61 C459.71,526.08 462.94,530.43 465.96,534.7 C468.98,538.97 471.8,543.13 474.82,548.22 C477.85,553.31 481.04,559.16 484.09,565.25 C487.15,571.34 490.1,577.82 493.16,584.75 C496.22,591.68 499.91,600.89 502.43,606.85 C504.95,612.81 506.46,616.27 508.27,620.5 C510.09,624.73 512.47,630.25 513.31,632.2" fill="none" stroke="#862f92" stroke-width="3.4" stroke-linejoin="round"/>
<path d="M323.9,478.5 V633.5 H525.4" fill="none" stroke="#111" stroke-width="1.6"/>
<text transform="translate(321.3,508.1) scale(0.86,1)" font-size="12.4" text-anchor="end" fill="#444">1.0</text>
<text x="319.4" y="636.1" font-size="12" text-anchor="end" fill="#222">0</text>
<text x="323.9" y="647" font-size="12.5" text-anchor="middle" fill="#222">0</text>
<text x="424.65" y="647" font-size="12.5" text-anchor="middle" fill="#222">50</text>
<text x="525.4" y="647" font-size="12.5" text-anchor="middle" fill="#222">100</text>
<text transform="translate(285.5,556.5) rotate(-90)" font-size="12.85" font-weight="bold" text-anchor="middle">Normalized Radial</text>
<text transform="translate(300.3,556.5) rotate(-90)" font-size="12.6" font-weight="bold" text-anchor="middle">Constriction Speed</text>
<text x="335" y="626.5" font-size="12.5" font-weight="bold" fill="#7e2a8d">notFILAMENT</text>
<text x="545.6" y="467.3" font-size="15" font-weight="bold">C<tspan dx="0.8">”</tspan></text>
<path d="M641.4,550.18 L660.87,564.15 L653.43,586.76 L629.37,586.76 L621.93,564.15 Z" fill="none" stroke="#868686" stroke-width="1.5" stroke-dasharray="3.4 3.05"/>
<path d="M641.4,529.95 L680.33,557.9 L665.46,603.12 L617.34,603.12 L602.47,557.9 Z" fill="none" stroke="#868686" stroke-width="1.5" stroke-dasharray="3.4 3.05"/>
<path d="M641.4,509.73 L699.8,551.65 L677.49,619.49 L605.31,619.49 L583,551.65 Z" fill="none" stroke="#868686" stroke-width="1.5" stroke-dasharray="3.4 3.05"/>
<path d="M641.4,489.5 L719.26,545.4 L689.52,635.85 L593.28,635.85 L563.54,545.4 Z" fill="none" stroke="#868686" stroke-width="1.5" stroke-dasharray="3.4 3.05"/>
<path d="M641.4,570.4 L641.4,489.5" stroke="#868686" stroke-width="1.5" stroke-dasharray="3.4 3.05"/>
<path d="M641.4,570.4 L719.26,545.4" stroke="#868686" stroke-width="1.5" stroke-dasharray="3.4 3.05"/>
<path d="M641.4,570.4 L689.52,635.85" stroke="#868686" stroke-width="1.5" stroke-dasharray="3.4 3.05"/>
<path d="M641.4,570.4 L593.28,635.85" stroke="#868686" stroke-width="1.5" stroke-dasharray="3.4 3.05"/>
<path d="M641.4,570.4 L563.54,545.4" stroke="#868686" stroke-width="1.5" stroke-dasharray="3.4 3.05"/>
<text x="641.6" y="484.4" font-size="11.5" text-anchor="middle" fill="#8a8a8a">1</text>
<text x="725.6" y="546.7" font-size="11.5" text-anchor="middle" fill="#8a8a8a">2</text>
<text x="694.7" y="648" font-size="11.5" text-anchor="middle" fill="#8a8a8a">3</text>
<text x="589.7" y="648" font-size="11.5" text-anchor="middle" fill="#8a8a8a">4</text>
<text x="556.9" y="547.2" font-size="11.5" text-anchor="middle" fill="#8a8a8a">5</text>
<path d="M641.4,549 L669.12,561.5 L654.31,587.96 L624.45,593.46 L621.38,563.97 Z" fill="#b47fbd" stroke="#80268f" stroke-width="2.9" stroke-linejoin="miter"/>
<path d="M641.7,570.4 L641.7,549.6" stroke="#000" stroke-width="1.6"/>
<path d="M641.7,570.4 L661.72,563.97" stroke="#000" stroke-width="1.6"/>
<path d="M641.7,570.4 L654.07,587.23" stroke="#000" stroke-width="1.6"/>
<path d="M641.7,570.4 L629.33,587.23" stroke="#000" stroke-width="1.6"/>
<path d="M641.7,570.4 L621.68,563.97" stroke="#000" stroke-width="1.6"/>
<path d="M641.7,549.6 L661.72,563.97 L654.07,587.23 L629.33,587.23 L621.68,563.97 Z" fill="none" stroke="#000" stroke-width="1.9" stroke-linejoin="miter"/>
<text x="0.3" y="699.6" font-size="15" font-weight="bold">D</text>
<path d="M44.8,711 V867 H249" fill="none" stroke="#111" stroke-width="1.6"/>
<text x="41.5" y="719.8" font-size="12" text-anchor="end" fill="#222">1.0</text>
<text x="41" y="871.3" font-size="12" text-anchor="end" fill="#222">0</text>
<text x="46" y="880.5" font-size="12" text-anchor="middle" fill="#222">0</text>
<text x="146.5" y="880.5" font-size="12" text-anchor="middle" fill="#222">50</text>
<text x="247.5" y="880.5" font-size="12" text-anchor="middle" fill="#222">100</text>
<text transform="translate(13.3,791.75) rotate(-90)" font-size="12.8" font-weight="bold" text-anchor="middle">Normalized</text>
<text transform="translate(27.8,791.75) rotate(-90)" font-size="12.8" font-weight="bold" text-anchor="middle">Abundance</text>
<path d="M45,715.5 L242.52,717.77" fill="none" stroke="#b81c24" stroke-width="3.2" stroke-linecap="round" stroke-linejoin="round"/>
<path d="M45,830.64 L46.69,826.83 L48.38,823.09 L50.08,819.41 L51.77,815.8 L53.46,812.25 L55.15,808.76 L56.84,805.34 L58.53,801.98 L60.23,798.69 L61.92,795.46 L63.61,792.29 L65.3,789.19 L66.99,786.15 L68.68,783.18 L70.38,780.27 L72.07,777.42 L73.76,774.64 L75.45,771.92 L77.14,769.26 L78.83,766.67 L80.53,764.15 L82.22,761.68 L83.91,759.29 L85.6,756.95 L87.29,754.68 L88.98,752.47 L90.68,750.33 L92.37,748.25 L94.06,746.24 L95.75,744.28 L97.44,742.4 L99.13,740.57 L100.83,738.82 L102.52,737.12 L104.21,735.49 L105.9,733.92 L107.59,732.42 L109.28,730.98 L110.98,729.6 L112.67,728.29 L114.36,727.05 L116.05,725.86 L117.74,724.74 L119.43,723.69 L121.12,722.7 L122.82,721.77 L124.51,720.91 L126.2,720.11 L127.89,719.37 L129.58,718.7 L131.27,718.09 L132.97,717.55 L134.66,717.07 L136.35,716.65 L138.04,716.3 L139.73,716.01 L141.43,715.81 L143.12,716.06 L144.81,716.37 L146.5,716.75 L148.19,717.2 L149.88,717.73 L151.57,718.32 L153.27,718.98 L154.96,719.71 L156.65,720.51 L158.34,721.38 L160.03,722.32 L161.72,723.33 L163.42,724.4 L165.11,725.55 L166.8,726.77 L168.49,728.06 L170.18,729.41 L171.88,730.84 L173.57,732.33 L175.26,733.9 L176.95,735.53 L178.64,737.24 L180.33,739.01 L182.03,740.85 L183.72,742.77 L185.41,744.75 L187.1,746.8 L188.79,748.92 L190.48,751.11 L192.17,753.38 L193.87,755.71 L195.56,758.11 L197.25,760.57 L198.94,763.11 L200.63,765.72 L202.33,768.4 L204.02,771.15 L205.71,773.96 L207.4,776.85 L209.09,779.81 L210.78,782.83 L212.47,785.93 L214.17,789.09 L215.86,792.33 L217.55,795.63 L219.24,799.01 L220.93,802.45 L222.62,805.96 L224.32,809.54 L226.01,813.2 L227.7,816.92 L229.39,820.71 L231.08,824.57 L232.78,828.5 L234.47,832.5 L236.16,836.57 L237.85,840.71 L239.54,844.91 L241.23,849.19 L242.92,853.54 L244.62,857.96 L246.31,862.44 L248,867" fill="none" stroke="#45187c" stroke-width="3.2" stroke-linecap="round" stroke-linejoin="round"/>
<path d="M45,812.91 C47.23,811.58 53.42,808.07 58.4,804.88 C63.37,801.7 69.33,797.92 74.84,793.83 C80.36,789.74 85.97,784.94 91.49,780.34 C97,775.75 102.48,770.87 107.93,766.25 C113.38,761.63 118.76,757.16 124.17,752.62 C129.58,748.07 135.67,742.77 140.41,738.98 C145.15,735.2 148.87,732.42 152.59,729.89 C156.31,727.37 159.36,725.68 162.74,723.83 C166.12,721.99 169.51,720.22 172.89,718.83 C176.27,717.44 180.67,716.03 183.04,715.5 C185.41,714.97 185.75,715.51 187.1,715.65 C188.45,715.79 189.81,715.98 191.16,716.34 C192.51,716.7 193.87,717.16 195.22,717.81 C196.57,718.46 197.93,719.24 199.28,720.23 C200.63,721.23 201.99,722.39 203.34,723.77 C204.69,725.16 206.05,726.73 207.4,728.55 C208.75,730.36 210.11,732.39 211.46,734.68 C212.81,736.97 214.17,739.49 215.52,742.28 C216.87,745.08 218.23,748.12 219.58,751.45 C220.93,754.79 222.29,758.38 223.64,762.29 C224.99,766.19 226.35,770.37 227.7,774.87 C229.05,779.38 230.41,784.17 231.76,789.3 C233.11,794.43 234.47,799.87 235.82,805.65 C237.17,811.43 238.53,817.54 239.88,824 C241.23,830.46 242.59,837.26 243.94,844.43 C245.29,851.59 247.32,863.24 248,867" fill="none" stroke="#4a6b26" stroke-width="3.2" stroke-linecap="round" stroke-linejoin="round"/>
<path d="M45,734.44 L46.69,733.69 L48.38,732.96 L50.08,732.25 L51.77,731.55 L53.46,730.87 L55.15,730.2 L56.84,729.54 L58.53,728.9 L60.23,728.28 L61.92,727.67 L63.61,727.07 L65.3,726.49 L66.99,725.93 L68.68,725.38 L70.38,724.84 L72.07,724.32 L73.76,723.82 L75.45,723.33 L77.14,722.85 L78.83,722.39 L80.53,721.94 L82.22,721.51 L83.91,721.1 L85.6,720.7 L87.29,720.31 L88.98,719.94 L90.68,719.58 L92.37,719.24 L94.06,718.91 L95.75,718.6 L97.44,718.31 L99.13,718.02 L100.83,717.76 L102.52,717.51 L104.21,717.27 L105.9,717.05 L107.59,716.84 L109.28,716.65 L110.98,716.47 L112.67,716.31 L114.36,716.16 L116.05,716.03 L117.74,715.91 L119.43,715.81 L121.12,715.72 L122.82,715.64 L124.51,715.59 L126.2,715.54 L127.89,715.52 L129.58,715.55 L131.27,715.61 L132.97,715.7 L134.66,715.82 L136.35,715.98 L138.04,716.17 L139.73,716.41 L141.43,716.68 L143.12,717 L144.81,717.36 L146.5,717.76 L148.19,718.22 L149.88,718.73 L151.57,719.28 L153.27,719.89 L154.96,720.55 L156.65,721.27 L158.34,722.04 L160.03,722.87 L161.72,723.76 L163.42,724.71 L165.11,725.71 L166.8,726.78 L168.49,727.91 L170.18,729.11 L171.88,730.37 L173.57,731.7 L175.26,733.09 L176.95,734.55 L178.64,736.08 L180.33,737.68 L182.03,739.34 L183.72,741.08 L185.41,742.89 L187.1,744.78 L188.79,746.73 L190.48,748.76 L192.17,750.87 L193.87,753.05 L195.56,755.31 L197.25,757.65 L198.94,760.06 L200.63,762.55 L202.33,765.12 L204.02,767.77 L205.71,770.51 L207.4,773.32 L209.09,776.22 L210.78,779.2 L212.47,782.26 L214.17,785.41 L215.86,788.64 L217.55,791.96 L219.24,795.36 L220.93,798.85 L222.62,802.43 L224.32,806.1 L226.01,809.85 L227.7,813.7 L229.39,817.63 L231.08,821.66 L232.78,825.77 L234.47,829.98 L236.16,834.28 L237.85,838.67 L239.54,843.15 L241.23,847.73 L242.92,852.41 L244.62,857.18 L246.31,862.04 L248,867" fill="none" stroke="#4754a3" stroke-width="3.2" stroke-linecap="round" stroke-linejoin="round"/>
<text x="60.6" y="826.3" font-size="12.7" font-weight="bold" fill="#b81c24">MOTOR</text>
<text x="60.6" y="837.2" font-size="12.7" font-weight="bold" fill="#45187c">FILAMENT</text>
<text x="60.6" y="848.1" font-size="12.7" font-weight="bold" fill="#4754a3">CROSSLINKER</text>
<text x="60.6" y="859" font-size="12.7" font-weight="bold" fill="#4a6b26">TETHER</text>
<text x="275.8" y="699.6" font-size="15" font-weight="bold">D<tspan dx="0.6">’</tspan></text>
<path d="M322.8,849.59 L336.95,816.72 L355.14,781.21 L373.32,757.54 L391.51,742.42 L409.7,734.53 L418.8,733.87 L439.21,738.47 L459.22,753.6 L479.23,779.89 L488.52,791.07 L497.21,804.88 L504.69,814.09 L513.18,823.29 L516.41,814.09 L518.03,798.3 L518.84,799.62 L519.85,815.4 L520.66,835.12 L520.66,835.12 L519.85,846.96 L519.04,853.53 L516.82,860.11 L513.18,864.05 L506.1,859.32 L501.66,853.01 L492.77,835.12 L484.68,816.72 L479.23,804.88 L459.22,770.03 L439.21,747.02 L418.8,739.79 L409.7,741.1 L391.51,749.65 L373.32,767.4 L355.14,791.73 L336.95,826.58 L322.8,865.37 Z" fill="#bdbdbd" stroke="none"/>
<path d="M322.8,856.16 C323.98,853.21 327.52,844.22 329.87,838.41 C332.23,832.6 334.25,827.24 336.95,821.32 C339.64,815.4 343.01,808.76 346.04,802.91 C349.07,797.06 352.1,791.14 355.14,786.21 C358.17,781.28 361.2,777.33 364.23,773.32 C367.26,769.31 370.29,765.47 373.32,762.14 C376.36,758.81 379.39,756.03 382.42,753.33 C385.45,750.64 388.48,748.03 391.51,745.97 C394.55,743.91 397.58,742.33 400.61,740.97 C403.64,739.61 406.67,738.56 409.7,737.82 C412.73,737.07 415.77,736.5 418.8,736.5 C421.83,736.5 424.49,736.83 427.89,737.82 C431.29,738.8 435.67,740.34 439.21,742.42 C442.75,744.5 445.78,747.24 449.11,750.31 C452.45,753.38 456.02,757.1 459.22,760.83 C462.42,764.55 464.98,768.06 468.31,772.66 C471.65,777.26 475.86,783.07 479.23,788.44 C482.59,793.81 485.52,799.18 488.52,804.88 C491.52,810.58 494.69,817.7 497.21,822.63 C499.74,827.56 501.76,831.18 503.68,834.47 C505.6,837.75 507.28,840.45 508.73,842.36 C510.18,844.26 511.33,845.8 512.37,845.91 C513.41,846.02 514.19,845.47 515,843.01 C515.81,840.56 516.61,833.99 517.22,831.18 C517.83,828.37 518.23,825.96 518.63,826.18 C519.04,826.4 519.34,828.81 519.65,832.5 C519.95,836.18 520.32,845.64 520.45,848.27" fill="none" stroke="#000" stroke-width="3.6" stroke-linejoin="round" stroke-linecap="butt"/>
<path d="M322.8,854.85 C323.2,851.56 324.38,840.67 325.23,835.12 C326.07,829.58 326.61,827.72 327.85,821.58 C329.1,815.44 331.02,805.47 332.7,798.3 C334.39,791.14 336.37,785.15 337.96,778.58 C339.54,772.01 340.89,764.58 342.2,758.86 C343.52,753.13 344.36,748.42 345.84,744.26 C347.32,740.09 349.28,736.7 351.09,733.87 C352.91,731.04 354.73,729.49 356.75,727.29 C358.77,725.1 360.76,723 363.22,720.72 C365.68,718.44 368.47,715.59 371.51,713.62 C374.54,711.65 378.34,710.13 381.41,708.88 C384.47,707.64 386.36,706.43 389.9,706.12 C393.43,705.82 398.08,706.1 402.63,707.04 C407.18,707.99 412.63,709.94 417.18,711.78 C421.73,713.62 426.41,715.74 429.91,718.09 C433.42,720.44 435.27,724.14 438.2,725.85 C441.13,727.56 444.43,726.09 447.5,728.35 C450.56,730.6 453.56,735.84 456.59,739.39 C459.62,742.94 462.65,746.25 465.68,749.65 C468.72,753.05 471.07,753.77 474.78,759.78 C478.48,765.78 483.94,776.41 487.92,785.68 C491.89,794.95 496.17,807.16 498.63,815.4 C501.09,823.64 501.66,827.45 502.67,835.12 C503.68,842.8 504.35,857.04 504.69,861.42 L502.67,862.74 C502.33,860.42 502.84,856.69 500.65,848.8 C498.46,840.91 493.84,825.28 489.53,815.4 C485.22,805.52 480.27,798.13 474.78,789.49 C469.29,780.86 462.69,771.54 456.59,763.59 C450.49,755.63 442.65,746.27 438.2,741.76 C433.75,737.25 432.81,738.1 429.91,736.5 C427.02,734.9 423.85,732.6 420.82,732.16 C417.79,731.72 414.76,733.26 411.72,733.87 C408.69,734.48 406.27,734.31 402.63,735.84 C398.99,737.38 394.51,738.58 389.9,743.08 C385.28,747.57 379.39,757.1 374.94,762.8 C370.5,768.5 366.29,774.04 363.22,777.26 C360.15,780.49 358.61,780.57 356.55,782.13 C354.5,783.69 353.05,784.41 350.89,786.6 C348.74,788.79 346.04,792.12 343.62,795.28 C341.19,798.44 338.73,801.64 336.34,805.54 C333.95,809.44 331.19,812.66 329.27,818.69 C327.35,824.71 325.9,835.23 324.82,841.7 C323.74,848.17 323.14,854.85 322.8,857.48 Z" fill="#cf781c" fill-opacity="0.4" stroke="none"/>
<path d="M323.41,860.11 C323.64,857.48 324.32,849.59 324.82,844.33 C325.33,839.07 325.46,835.02 326.44,828.55 C327.41,822.08 328.9,813.01 330.68,805.54 C332.47,798.06 334.99,789.78 337.15,783.71 C339.3,777.64 341.33,773.25 343.62,769.11 C345.91,764.97 348.7,761.31 350.89,758.86 C353.08,756.4 354.56,756.09 356.75,754.38 C358.94,752.67 361.6,750.79 364.03,748.6 C366.45,746.41 368.74,743.69 371.3,741.23 C373.86,738.78 376.69,736.3 379.39,733.87 C382.08,731.44 385.15,728.5 387.47,726.64 C389.8,724.77 390.81,723.46 393.33,722.69 C395.86,721.93 399.56,722.01 402.63,722.03 C405.69,722.06 408.86,722.52 411.72,722.82 C414.59,723.13 416.78,722.8 419.81,723.88 C422.84,724.95 426.85,727.58 429.91,729.27 C432.98,730.96 435.27,731.81 438.2,734 C441.13,736.19 444.43,739.33 447.5,742.42 C450.56,745.51 453.56,748.82 456.59,752.54 C459.62,756.27 462.65,760.45 465.68,764.77 C468.72,769.09 471.98,774.07 474.78,778.45 C477.57,782.83 480,786.75 482.46,791.07 C484.92,795.39 486.84,798.44 489.53,804.35 C492.23,810.27 496.61,820.35 498.63,826.58 C500.65,832.8 500.75,836.16 501.66,841.7 C502.57,847.24 503.68,856.82 504.08,859.85" fill="none" stroke="#cb5631" stroke-width="3.4" stroke-linejoin="round"/>
<path d="M322.8,711.5 V868 H524.9" fill="none" stroke="#111" stroke-width="1.6"/>
<text transform="translate(320.2,741.1) scale(0.86,1)" font-size="12.4" text-anchor="end" fill="#444">1.0</text>
<text x="318.3" y="870.6" font-size="12" text-anchor="end" fill="#222">0</text>
<text x="322.8" y="881.5" font-size="12.5" text-anchor="middle" fill="#222">0</text>
<text x="423.85" y="881.5" font-size="12.5" text-anchor="middle" fill="#222">50</text>
<text x="524.9" y="881.5" font-size="12.5" text-anchor="middle" fill="#222">100</text>
<text transform="translate(285.5,789.5) rotate(-90)" font-size="12.85" font-weight="bold" text-anchor="middle">Normalized Radial</text>
<text transform="translate(300.3,789.5) rotate(-90)" font-size="12.6" font-weight="bold" text-anchor="middle">Constriction Speed</text>
<text x="332.9" y="862" font-size="12.5" font-weight="bold" fill="#cb5631">notMOTOR</text>
<text x="545.6" y="699.6" font-size="15" font-weight="bold">D<tspan dx="0.8">”</tspan></text>
<path d="M641.4,784.68 L660.87,798.65 L653.43,821.26 L629.37,821.26 L621.93,798.65 Z" fill="none" stroke="#868686" stroke-width="1.5" stroke-dasharray="3.4 3.05"/>
<path d="M641.4,764.45 L680.33,792.4 L665.46,837.62 L617.34,837.62 L602.47,792.4 Z" fill="none" stroke="#868686" stroke-width="1.5" stroke-dasharray="3.4 3.05"/>
<path d="M641.4,744.23 L699.8,786.15 L677.49,853.99 L605.31,853.99 L583,786.15 Z" fill="none" stroke="#868686" stroke-width="1.5" stroke-dasharray="3.4 3.05"/>
<path d="M641.4,724 L719.26,779.9 L689.52,870.35 L593.28,870.35 L563.54,779.9 Z" fill="none" stroke="#868686" stroke-width="1.5" stroke-dasharray="3.4 3.05"/>
<path d="M641.4,804.9 L641.4,724" stroke="#868686" stroke-width="1.5" stroke-dasharray="3.4 3.05"/>
<path d="M641.4,804.9 L719.26,779.9" stroke="#868686" stroke-width="1.5" stroke-dasharray="3.4 3.05"/>
<path d="M641.4,804.9 L689.52,870.35" stroke="#868686" stroke-width="1.5" stroke-dasharray="3.4 3.05"/>
<path d="M641.4,804.9 L593.28,870.35" stroke="#868686" stroke-width="1.5" stroke-dasharray="3.4 3.05"/>
<path d="M641.4,804.9 L563.54,779.9" stroke="#868686" stroke-width="1.5" stroke-dasharray="3.4 3.05"/>
<text x="641.6" y="718.9" font-size="11.5" text-anchor="middle" fill="#8a8a8a">1</text>
<text x="725.6" y="781.2" font-size="11.5" text-anchor="middle" fill="#8a8a8a">2</text>
<text x="694.7" y="882.5" font-size="11.5" text-anchor="middle" fill="#8a8a8a">3</text>
<text x="589.7" y="882.5" font-size="11.5" text-anchor="middle" fill="#8a8a8a">4</text>
<text x="556.9" y="781.7" font-size="11.5" text-anchor="middle" fill="#8a8a8a">5</text>
<path d="M641.4,781.7 L671.04,795.38 L654.9,823.26 L621.77,831.6 L621.67,798.57 Z" fill="#de9b84" stroke="#c94e26" stroke-width="2.9" stroke-linejoin="miter"/>
<path d="M641.7,804.9 L641.7,784.1" stroke="#000" stroke-width="1.6"/>
<path d="M641.7,804.9 L661.72,798.47" stroke="#000" stroke-width="1.6"/>
<path d="M641.7,804.9 L654.07,821.73" stroke="#000" stroke-width="1.6"/>
<path d="M641.7,804.9 L629.33,821.73" stroke="#000" stroke-width="1.6"/>
<path d="M641.7,804.9 L621.68,798.47" stroke="#000" stroke-width="1.6"/>
<path d="M641.7,784.1 L661.72,798.47 L654.07,821.73 L629.33,821.73 L621.68,798.47 Z" fill="none" stroke="#000" stroke-width="1.9" stroke-linejoin="miter"/>
<text x="146.2" y="896.2" font-size="12.8" font-weight="bold" text-anchor="middle">Percent Closure</text>
<text x="426" y="896.2" font-size="12.8" font-weight="bold" text-anchor="middle">Percent Closure</text>
</svg>
</body></html>
